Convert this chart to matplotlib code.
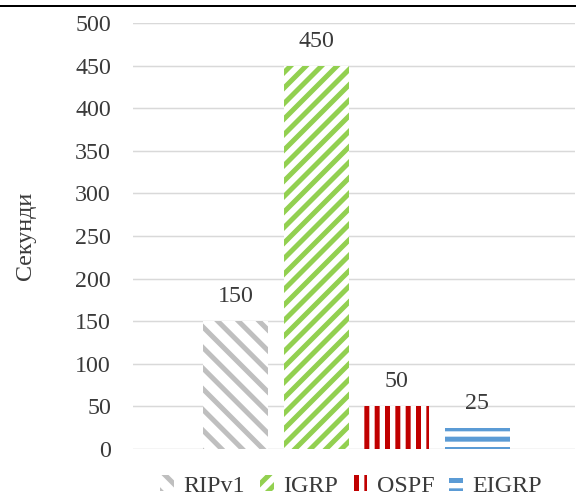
import matplotlib.pyplot as plt
from matplotlib.lines import Line2D

protocols = ["RIPv1", "IGRP", "OSPF", "EIGRP"]
seconds = [150, 450, 50, 25]
yticks = [0, 50, 100, 150, 200, 250, 300, 350, 400, 450, 500]
colors = ["#bfbfbf", "#92d050", "#c00000", "#5b9bd5"]
hatches = ["\\\\\\", "////", "|||", "---"]

DPI = 186          # chosen so hatch spacing matches the excel patterns
px = 72 / DPI      # one pixel in points
fs = 24 * px
text_color = "#3a3a3a"

plt.rcParams['font.family'] = ['Liberation Serif', 'DejaVu Serif']
plt.rcParams['hatch.linewidth'] = 5 * px

fig = plt.figure(figsize=(576 / DPI, 497 / DPI), dpi=DPI)
ax = fig.add_axes([133 / 576, 48 / 497, 442 / 576, 426 / 497])

for i, (name, val) in enumerate(zip(protocols, seconds)):
    bars = ax.bar(i, val, width=0.805, color="white", edgecolor=colors[i],
                  hatch=hatches[i], linewidth=0, label=name, zorder=2)
    ax.bar_label(bars, padding=14 * px, fontsize=fs, color=text_color)

ax.set_xlim(-1.27, 4.21)
ax.set_ylim(0, 500)
ax.set_yticks(yticks)
ax.set_xticks([])
ax.tick_params(axis="y", length=0, pad=22 * px, labelsize=fs, labelcolor=text_color)
ax.grid(axis="y", color="#d9d9d9", linewidth=1.5 * px, zorder=0)
ax.set_axisbelow(True)
for s in ax.spines.values():
    s.set_visible(False)

ax.set_ylabel("Секунди", fontsize=fs, color=text_color)
ax.yaxis.set_label_coords(-0.219, 0.5)

ax.legend(loc="center", bbox_to_anchor=(351 / 576, 1 - 486 / 497),
          bbox_transform=fig.transFigure, ncol=4, frameon=False,
          fontsize=fs, labelcolor=text_color, handlelength=0.58,
          handleheight=0.6, handletextpad=0.4, columnspacing=0.62)

fig.add_artist(Line2D([0, 1], [1 - 5.5 / 497, 1 - 5.5 / 497],
                      transform=fig.transFigure, color="black", linewidth=2 * px))

fig.savefig("out.png", dpi=DPI)
